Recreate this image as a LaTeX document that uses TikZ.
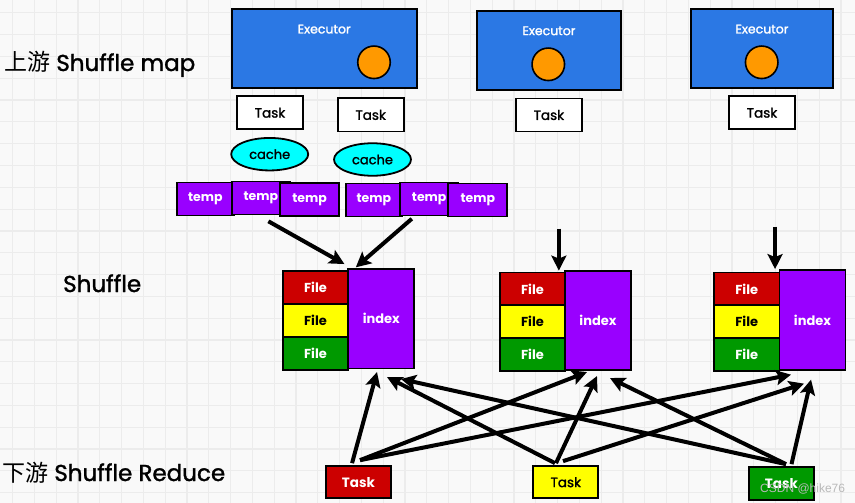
\documentclass[tikz,border=0pt]{standalone}
\usepackage{fontspec}
\setmainfont{Poppins}
\newfontfamily\medfont{Poppins}[FakeBold=1.5]
\newfontfamily\cjk{Noto Sans CJK SC}
\newfontfamily\wmfont{Liberation Sans}
\usetikzlibrary{arrows.meta,shapes.geometric}

\definecolor{bgpaper}{HTML}{F9F9F9}
\definecolor{gridgray}{HTML}{ECECEC}
\definecolor{execblue}{HTML}{2B78E4}
\definecolor{dotorange}{HTML}{FF9900}
\definecolor{tempviolet}{HTML}{9900FF}
\definecolor{filered}{HTML}{CC0000}
\definecolor{fileyellow}{HTML}{FFFF00}
\definecolor{filegreen}{HTML}{009900}
\definecolor{cachecyan}{HTML}{00FFFF}

\begin{document}
\begin{tikzpicture}[
            x=1pt,y=-1pt,
            box/.style={draw=black,line width=1.8pt,inner sep=0pt,
                minimum width=66pt,minimum height=33pt,
                font=\medfont\fontsize{13}{13}\selectfont},
            execbox/.style={box,fill=execblue},
            exectext/.style={text=white,inner sep=0pt,font=\medfont\fontsize{12.5}{12.5}\selectfont},
            dot/.style={circle,draw=black,line width=1.6pt,fill=dotorange,minimum size=32.5pt,inner sep=0pt},
            taskbox/.style={box,fill=white,font=\medfont\fontsize{13.5}{13.5}\selectfont},
            boldtask/.style={taskbox,text=white,font=\fontsize{13.5}{13.5}\selectfont\bfseries},
            cachebox/.style={ellipse,draw=black,line width=1.8pt,fill=cachecyan,
                minimum width=77pt,minimum height=32.5pt,inner sep=0pt,
                font=\medfont\fontsize{13}{13}\selectfont},
            tempbox/.style={box,fill=tempviolet,text=white,minimum width=57pt,
                font=\fontsize{12.5}{12.5}\selectfont\bfseries},
            filebox/.style={box,minimum width=65.5pt,minimum height=32.8pt,
                font=\fontsize{13}{13}\selectfont\bfseries},
            indexbox/.style={box,fill=tempviolet,text=white,minimum height=99.5pt,
                font=\fontsize{13}{13}\selectfont\bfseries},
            stagetext/.style={anchor=base west,inner sep=0pt,font=\medfont\fontsize{23}{23}\selectfont},
            gridline/.style={gridgray,line width=1.2pt},
            flow/.style={line width=4pt,-{Stealth[length=15pt,width=15pt,inset=3pt]}}
        ]
            \useasboundingbox (0,0) rectangle (855,503);
            \fill[bgpaper] (0,0) rectangle (855,503);
            \foreach \i in {0,...,38}
                \draw[gridline] ({12.5+21.8*\i},0) -- ({12.5+21.8*\i},503);
            \foreach \j in {0,...,22}
                \draw[gridline] (0,{12.9+21.8*\j}) -- (855,{12.9+21.8*\j});

            \node[stagetext] (upmap) at (4,71) {{\cjk 上游} Shuffle map};
            \node[stagetext] (mid) at (63,292) {Shuffle};
            \node[stagetext] (downred) at (2,481) {{\cjk 下游} Shuffle Reduce};

            \node[execbox,minimum width=185pt,minimum height=78.7pt] (ex1) at (324.2,48.4) {};
            \node[execbox,minimum width=143.4pt,minimum height=79.3pt] (ex2) at (549,50.4) {};
            \node[execbox,minimum width=142.6pt,minimum height=78.7pt] (ex3) at (762,48.4) {};
            \node[exectext] (ex1t) at ([yshift=-21pt]ex1.north) {Executor};
            \node[exectext] (ex2t) at ([yshift=-21pt]ex2.north) {Executor};
            \node[exectext] (ex3t) at ([yshift=-21pt]ex3.north) {Executor};
            \node[dot] (dot1) at (374,62.3) {};
            \node[dot] (dot2) at (548.3,64.3) {};
            \node[dot] (dot3) at (761.7,62.3) {};

            \node[taskbox] (tk1) at (270,112.7) {Task};
            \node[taskbox] (tk2) at (370.7,114.9) {Task};
            \node[taskbox] (tk3) at (548.9,115) {Task};
            \node[taskbox] (tk4) at (762,112.7) {Task};

            \node[cachebox] (ca1) at (269.7,154.2) {cache};
            \node[cachebox] (ca2) at (372.5,159.5) {cache};

            \node[tempbox] (ta) at (205.3,199) {temp};
            \node[tempbox,minimum width=58pt] (tb) at (260.9,197.9) {temp};
            \node[tempbox,minimum width=59pt] (tc) at (309.5,199.4) {temp};
            \node[tempbox,minimum width=55.7pt] (td) at (373.9,200) {temp};
            \node[tempbox,minimum width=58pt] (te) at (429.2,198.9) {temp};
            \node[tempbox,minimum width=59pt] (tf) at (477.8,200) {temp};

            \node[filebox,fill=filered,text=white] (f1r) at (315.5,287.4) {File};
            \node[filebox,fill=fileyellow] (f1y) at (315.5,320.4) {File};
            \node[filebox,fill=filegreen,text=white] (f1g) at (315.5,353.4) {File};
            \node[indexbox] (idx1) at (381.3,318.7) {index};

            \node[filebox,fill=filered,text=white] (f2r) at (532.5,288.9) {File};
            \node[filebox,fill=fileyellow] (f2y) at (532.5,321.7) {File};
            \node[filebox,fill=filegreen,text=white] (f2g) at (532.5,354.5) {File};
            \node[indexbox] (idx2) at (598,320.4) {index};

            \node[filebox,fill=filered,text=white] (f3r) at (746.7,288.9) {File};
            \node[filebox,fill=fileyellow] (f3y) at (746.7,321.4) {File};
            \node[filebox,fill=filegreen,text=white] (f3g) at (746.7,354.4) {File};
            \node[indexbox] (idx3) at (812.5,320) {index};

            \node[boldtask,fill=filered,minimum width=65.3pt,minimum height=32.3pt] (rt) at (358.4,482.2) {Task};
            \node[taskbox,fill=fileyellow,minimum width=65pt,minimum height=32.3pt] (yt) at (565.8,482.2) {Task};
            \node[boldtask,fill=filegreen,minimum width=65pt,minimum height=33.3pt] (gt) at (781.5,483.4) {Task};

            \draw[flow] ([xshift=7.5pt,yshift=-6pt]tb.south) -- ([xshift=-3pt,yshift=4pt]idx1.north west);
            \draw[flow] ([xshift=12.5pt,yshift=-2.5pt]te.south west) -- ([xshift=8.4pt,yshift=0.7pt]idx1.north west);
            \draw[flow] ([xshift=-7.3pt,yshift=43pt]f2r.north east) -- ([xshift=-7.3pt,yshift=1pt]f2r.north east);
            \draw[flow] ([xshift=-5.3pt,yshift=45pt]f3r.north east) -- ([xshift=-5.3pt,yshift=2.5pt]f3r.north east);

            \draw[flow] ([xshift=-6.35pt,yshift=2pt]rt.north) -- ([xshift=-4.3pt,yshift=-2.7pt]idx1.south);
            \draw[flow] ([xshift=1.65pt,yshift=5pt]rt.north) -- ([xshift=-11pt,yshift=-1pt]idx2.south);
            \draw[flow] ([xshift=1.65pt,yshift=5pt]rt.north) -- ([xshift=-21.5pt,yshift=-4pt]idx3.south);
            \draw[flow] ([xshift=-10.8pt,yshift=2pt]yt.north) -- ([xshift=5.7pt,yshift=-7.7pt]idx1.south);
            \draw[flow] ([xshift=-9.8pt,yshift=2pt]yt.north) -- ([xshift=-1pt,yshift=-5pt]idx2.south);
            \draw[flow] ([xshift=-2.8pt,yshift=4pt]yt.north) -- ([xshift=-8.5pt,yshift=-13pt]idx3.south);
            \draw[flow] ([xshift=4.5pt,yshift=1.7pt]gt.north) -- ([xshift=19.7pt,yshift=-9.7pt]idx1.south);
            \draw[flow] ([xshift=4.5pt,yshift=1.7pt]gt.north) -- ([xshift=12pt,yshift=-7pt]idx2.south);
            \draw[flow] ([xshift=10pt,yshift=1.7pt]gt.north) -- ([xshift=-1.5pt,yshift=-9pt]idx3.south);

            \node[anchor=base west,inner sep=0pt,text=gray!55,font=\wmfont\fontsize{12}{12}\selectfont] (wmark) at (760,492.5) {CSDN @hike76};
        \end{tikzpicture}
\end{document}
